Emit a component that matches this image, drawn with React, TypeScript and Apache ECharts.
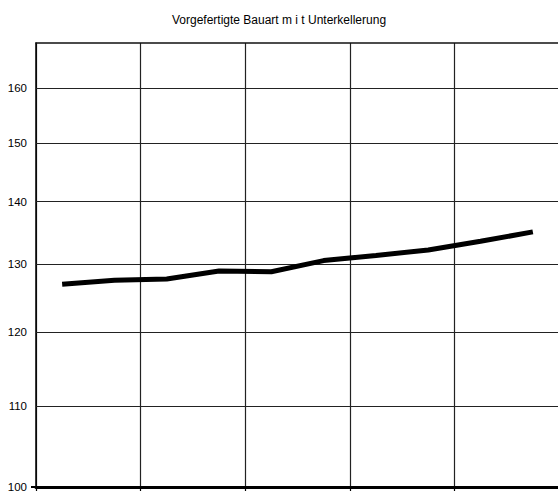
import React, { useEffect, useRef } from "react";
import * as echarts from "echarts";

const titleText = "Vorgefertigte Bauart m i t Unterkellerung";
const categories = ["1", "2", "3", "4", "5", "6", "7", "8", "9", "10"];
const values = [127.0, 127.6, 127.8, 129.0, 128.9, 130.6, 131.4, 132.25, 133.6, 135.1];
const yTicks = [100, 110, 120, 130, 140, 150, 160];
const gridLineValues = [110, 120, 130, 140, 150, 160];

export default function App() {
  const ref = useRef<HTMLDivElement>(null);
  useEffect(() => {
    if (!ref.current) return;
    const chart = echarts.init(ref.current, null, { renderer: "svg" });
    chart.setOption({
      animation: false,
      backgroundColor: "#ffffff",
      title: {
        text: titleText,
        left: "center",
        top: 9,
        textStyle: {
          fontSize: 12,
          fontWeight: "normal",
          color: "#000",
          fontFamily: "Liberation Sans, Arial, sans-serif",
        },
      },
      grid: {
        left: 36,
        right: -1,
        top: 43,
        bottom: 7,
        show: false,
        outerBoundsMode: "none",
        containLabel: false,
      },
      xAxis: [
        {
          type: "category",
          data: categories,
          boundaryGap: true,
          axisLine: { show: true, lineStyle: { color: "#000", width: 3 } },
          axisTick: { show: true, interval: 1, length: 4, lineStyle: { color: "#000", width: 1.2 } },
          axisLabel: { show: false },
          splitLine: { show: true, interval: 1, lineStyle: { color: "#222", width: 1.2 } },
        },
        {
          type: "category",
          data: categories,
          position: "top",
          boundaryGap: true,
          axisLine: { show: true, lineStyle: { color: "#111", width: 1.5 } },
          axisTick: { show: false },
          axisLabel: { show: false },
          splitLine: { show: false },
        },
      ],
      yAxis: {
        type: "log",
        logBase: 10,
        min: 100,
        max: 168.8,
        axisLine: { show: true, lineStyle: { color: "#000", width: 1.5 } },
        axisTick: { show: true, customValues: [100], length: 5, lineStyle: { color: "#000", width: 2 } },
        axisLabel: {
          show: true,
          customValues: yTicks,
          formatter: (v: number) => String(Math.round(v)),
          fontSize: 11.5,
          color: "#000",
          margin: 9,
          fontFamily: "Liberation Sans, Arial, sans-serif",
        },
        splitLine: { show: false },
      },
      series: [
        {
          type: "line",
          data: values,
          xAxisIndex: 0,
          symbol: "none",
          lineStyle: { color: "#000", width: 5 },
          z: 5,
          markLine: {
            silent: true,
            symbol: "none",
            label: { show: false },
            lineStyle: { color: "#222", width: 1.2, type: "solid" },
            data: gridLineValues.map((v) => ({ yAxis: v })),
          },
        },
      ],
    });
    return () => chart.dispose();
  }, []);
  return (
    <div
      ref={ref}
      style={{ position: "absolute", left: 0, top: 0, width: 558, height: 494 }}
    />
  );
}
